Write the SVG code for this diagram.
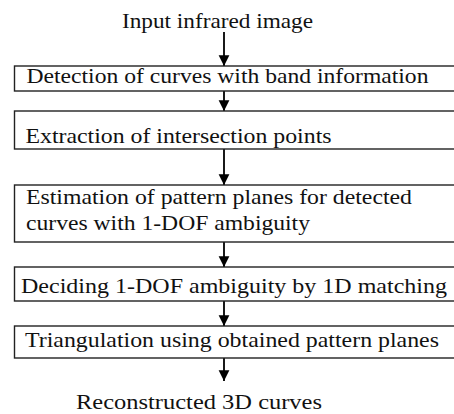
<svg xmlns="http://www.w3.org/2000/svg" width="454" height="414" viewBox="0 0 454 414">
  <defs>
    <marker id="head" viewBox="0 0 10 10" refX="10" refY="5" markerWidth="6" markerHeight="6.5" markerUnits="strokeWidth" orient="auto">
      <path d="M0,0 L10,5 L0,10 Z" fill="#000"/>
    </marker>
    <style>
      .box { fill: #fff; stroke: #222; stroke-width: 1.4; }
      .lbl { font-family: "Liberation Serif", "DejaVu Serif", serif; font-size: 22px; fill: #111; }
      .conn { stroke: #000; stroke-width: 1.8; fill: none; marker-end: url(#head); }
    </style>
  </defs>
  <rect width="454" height="414" fill="#fff"/>

  <!-- connectors -->
  <g id="connectors">
    <line class="conn" x1="224" y1="32" x2="224" y2="66"/>
    <line class="conn" x1="224" y1="91" x2="224" y2="111"/>
    <line class="conn" x1="224" y1="149" x2="224" y2="185"/>
    <line class="conn" x1="224" y1="242" x2="224" y2="267"/>
    <line class="conn" x1="224" y1="301" x2="224" y2="326"/>
    <line class="conn" x1="224" y1="358" x2="224" y2="381"/>
  </g>

  <g id="input">
    <text class="lbl" x="122" y="28" textLength="191" lengthAdjust="spacingAndGlyphs">Input infrared image</text>
  </g>

  <g id="detection">
    <rect class="box" x="14.5" y="66" width="450" height="25"/>
    <text class="lbl" x="26.5" y="83" textLength="402" lengthAdjust="spacingAndGlyphs">Detection of curves with band information</text>
  </g>

  <g id="extraction">
    <rect class="box" x="14.5" y="111" width="450" height="38"/>
    <text class="lbl" x="25.5" y="143" textLength="306" lengthAdjust="spacingAndGlyphs">Extraction of intersection points</text>
  </g>

  <g id="estimation">
    <rect class="box" x="14.5" y="185" width="450" height="57"/>
    <text class="lbl" x="26" y="204" textLength="386" lengthAdjust="spacingAndGlyphs">Estimation of pattern planes for detected</text>
    <text class="lbl" x="26" y="230" textLength="284" lengthAdjust="spacingAndGlyphs">curves with 1-DOF ambiguity</text>
  </g>

  <g id="deciding">
    <rect class="box" x="14.5" y="267" width="450" height="34"/>
    <text class="lbl" x="21" y="293" textLength="426" lengthAdjust="spacingAndGlyphs">Deciding 1-DOF ambiguity by 1D matching</text>
  </g>

  <g id="triangulation">
    <rect class="box" x="14.5" y="326" width="450" height="32"/>
    <text class="lbl" x="25" y="347" textLength="414" lengthAdjust="spacingAndGlyphs">Triangulation using obtained pattern planes</text>
  </g>

  <g id="output">
    <text class="lbl" x="76" y="409" textLength="246" lengthAdjust="spacingAndGlyphs">Reconstructed 3D curves</text>
  </g>
</svg>
